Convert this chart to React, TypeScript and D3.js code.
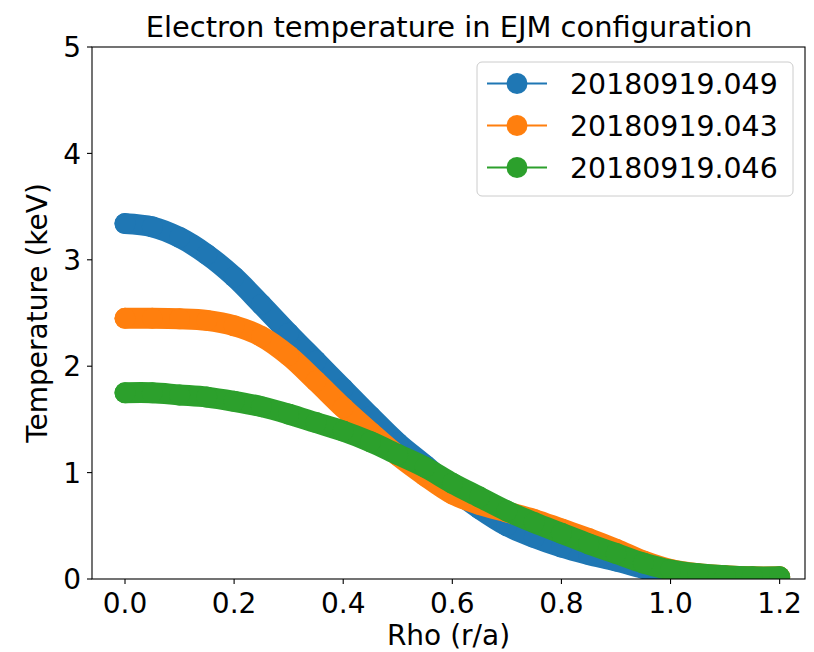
import React from "react";
import * as d3 from "d3";

const rho = [0, 0.05, 0.1, 0.15, 0.2, 0.25, 0.3, 0.35, 0.4, 0.45, 0.5, 0.55, 0.6, 0.65, 0.7, 0.75, 0.8, 0.85, 0.9, 0.95, 1.0, 1.05, 1.1, 1.15, 1.2];
const te049 = [3.34, 3.31, 3.21, 3.05, 2.84, 2.58, 2.31, 2.05, 1.79, 1.53, 1.28, 1.07, 0.85, 0.66, 0.5, 0.39, 0.3, 0.23, 0.17, 0.1, 0.04, 0.01, 0.0, 0.0, 0.0];
const te043 = [2.45, 2.45, 2.445, 2.43, 2.38, 2.28, 2.1, 1.86, 1.61, 1.38, 1.16, 0.97, 0.8, 0.7, 0.63, 0.56, 0.47, 0.38, 0.28, 0.17, 0.09, 0.05, 0.03, 0.02, 0.02];
const te046 = [1.75, 1.75, 1.73, 1.71, 1.67, 1.62, 1.55, 1.47, 1.39, 1.29, 1.17, 1.05, 0.9, 0.77, 0.64, 0.53, 0.43, 0.33, 0.24, 0.15, 0.085, 0.05, 0.03, 0.02, 0.02];

const seriesNames = ["20180919.049", "20180919.043", "20180919.046"];
const seriesValues = [te049, te043, te046];
const colors = ["#1f77b4", "#ff7f0e", "#2ca02c"];
const xTicks = [0, 0.2, 0.4, 0.6, 0.8, 1.0, 1.2];
const yTicks = [0, 1, 2, 3, 4, 5];

const FONT = "'DejaVu Sans', sans-serif";

export default function App() {
  const W = 814, H = 652;
  const left = 92, right = 805, top = 47, bottom = 579;
  const x = d3.scaleLinear().domain([-0.0605, 1.2465]).range([left, right]);
  const y = d3.scaleLinear().domain([0, 5]).range([bottom, top]);
  const line = d3
    .line<number>()
    .x((_d, i) => x(rho[i]))
    .y((d) => y(d))
    .curve(d3.curveCatmullRom.alpha(0.5));
  const R = 10.5;
  const fs = 28;

  return (
    <svg
      width={W}
      height={H}
      style={{ position: "fixed", left: 0, top: 0, background: "#fff" }}
      fontFamily={FONT}
    >
      <rect x={0} y={0} width={W} height={H} fill="#fff" />
      <defs>
        <clipPath id="plotclip">
          <rect x={left} y={top} width={right - left} height={bottom - top} />
        </clipPath>
      </defs>
      <g clipPath="url(#plotclip)">
        {seriesValues.map((vals, s) => (
          <g key={s}>
            <path
              d={line(vals) || ""}
              fill="none"
              stroke={colors[s]}
              strokeWidth={2 * R}
              strokeLinecap="round"
              strokeLinejoin="round"
            />
            {vals.map((v, i) => (
              <circle key={i} cx={x(rho[i])} cy={y(v)} r={R} fill={colors[s]} />
            ))}
          </g>
        ))}
      </g>
      {/* spines */}
      <rect x={left} y={top} width={right - left} height={bottom - top} fill="none" stroke="#000" strokeWidth={1.1} />
      {/* x ticks */}
      {xTicks.map((t) => (
        <g key={"x" + t}>
          <line x1={x(t)} x2={x(t)} y1={bottom} y2={bottom + 5} stroke="#000" strokeWidth={1.1} />
          <text x={x(t)} y={612.5} fontSize={fs} textAnchor="middle" fill="#000">
            {t.toFixed(1)}
          </text>
        </g>
      ))}
      {/* y ticks */}
      {yTicks.map((t) => (
        <g key={"y" + t}>
          <line x1={left - 5} x2={left} y1={y(t)} y2={y(t)} stroke="#000" strokeWidth={1.1} />
          <text x={81} y={y(t) + 10.2} fontSize={fs} textAnchor="end" fill="#000">
            {String(t)}
          </text>
        </g>
      ))}
      {/* title */}
      <text x={449} y={37} fontSize={28.9} textAnchor="middle" fill="#000">
        Electron temperature in EJM configuration
      </text>
      {/* axis labels */}
      <text x={(left + right) / 2} y={645} fontSize={fs} textAnchor="middle" fill="#000">
        Rho (r/a)
      </text>
      <text
        transform={`translate(47,${(top + bottom) / 2}) rotate(-90)`}
        fontSize={fs}
        textAnchor="middle"
        fill="#000"
      >
        Temperature (keV)
      </text>
      {/* legend */}
      <rect x={477} y={62} width={316} height={134} rx={5} fill="#fff" fillOpacity={0.8} stroke="#cccccc" strokeWidth={1} />
      {seriesNames.map((name, i) => {
        const cy = 83.5 + i * 42;
        return (
          <g key={name}>
            <line x1={487} x2={547} y1={cy} y2={cy} stroke={colors[i]} strokeWidth={2} />
            <circle cx={517} cy={cy} r={R} fill={colors[i]} />
            <text x={570} y={cy + 10.3} fontSize={28.4} fill="#000">
              {name}
            </text>
          </g>
        );
      })}
    </svg>
  );
}
